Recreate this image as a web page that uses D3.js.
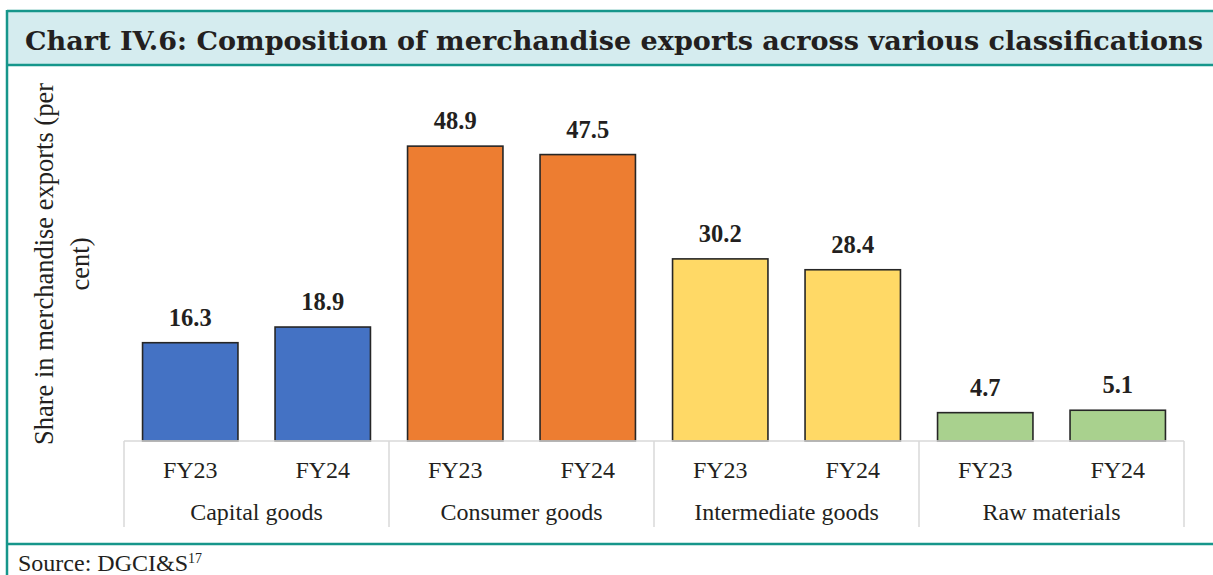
<!DOCTYPE html>
<html>
<head>
<meta charset="utf-8">
<script src="https://cdn.jsdelivr.net/npm/d3@7"></script>
<style>
  html, body { margin: 0; padding: 0; background: #fff; }
  svg { display: block; }
</style>
</head>
<body>
<svg id="chart" width="1213" height="575"></svg>
<script>
// Export composition by broad class, FY23 vs FY24 (share, per cent)
const groups = ["Capital goods", "Consumer goods", "Intermediate goods", "Raw materials"];
const years = ["FY23", "FY24"];
const fy23 = [16.3, 48.9, 30.2, 4.7];
const fy24 = [18.9, 47.5, 28.4, 5.1];
const groupColors = ["#4472c4", "#ed7d31", "#ffd966", "#a9d18e"];

const titleText = "Chart IV.6: Composition of merchandise exports across various classifications";
const yTitle = ["Share in merchandise exports (per", "cent)"];

const svg = d3.select("#chart");
const teal = "#16968b";
const serif = "'Liberation Serif', 'Times New Roman', serif";
const ink = "#231f20";

// Frame and title band
svg.append("rect").attr("x", 7).attr("y", 11).attr("width", 1220).attr("height", 54)
  .attr("fill", "#d5ecef");
svg.append("line").attr("x1", 7).attr("x2", 1213).attr("y1", 11).attr("y2", 11)
  .attr("stroke", teal).attr("stroke-width", 2.5);
svg.append("line").attr("x1", 7).attr("x2", 1213).attr("y1", 65).attr("y2", 65)
  .attr("stroke", teal).attr("stroke-width", 2.5);
svg.append("line").attr("x1", 7).attr("x2", 1213).attr("y1", 544).attr("y2", 544)
  .attr("stroke", teal).attr("stroke-width", 2.5);
svg.append("line").attr("x1", 7).attr("x2", 7).attr("y1", 10).attr("y2", 575)
  .attr("stroke", teal).attr("stroke-width", 2.5);

svg.append("text")
  .attr("x", 25).attr("y", 50)
  .attr("font-family", "'DejaVu Serif', Georgia, serif")
  .attr("font-weight", "bold")
  .attr("font-size", 26)
  .attr("fill", ink)
  .attr("textLength", 1178)
  .attr("lengthAdjust", "spacingAndGlyphs")
  .text(titleText);

// Plot geometry
const left = 124, right = 1184, base = 441, axisBottom = 527;

const x0 = d3.scaleBand().domain(groups).range([left, right]).padding(0);
const x1 = d3.scaleBand().domain(years).range([0, x0.bandwidth()]).paddingInner(0.28).paddingOuter(0.14);
const y = d3.scaleLinear().domain([0, 60]).range([base, base - 60 * 6.03]);

const rows = groups.map((g, i) => ({ group: g, color: groupColors[i], values: [
  { year: "FY23", v: fy23[i] }, { year: "FY24", v: fy24[i] }
]}));

const gGroup = svg.selectAll("g.grp").data(rows).join("g")
  .attr("class", "grp")
  .attr("transform", d => `translate(${x0(d.group)},0)`);

gGroup.selectAll("rect").data(d => d.values.map(v => ({ ...v, color: d.color }))).join("rect")
  .attr("x", d => x1(d.year))
  .attr("y", d => y(d.v))
  .attr("width", x1.bandwidth())
  .attr("height", d => y(0) - y(d.v))
  .attr("fill", d => d.color)
  .attr("stroke", "#262626")
  .attr("stroke-width", 1.6);

gGroup.selectAll("text.val").data(d => d.values).join("text")
  .attr("class", "val")
  .attr("x", d => x1(d.year) + x1.bandwidth() / 2)
  .attr("y", d => y(d.v) - 17)
  .attr("text-anchor", "middle")
  .attr("font-family", serif)
  .attr("font-weight", "bold")
  .attr("font-size", 24.5)
  .attr("fill", ink)
  .text(d => d.v.toFixed(1));

// Category axis: baseline and group dividers
const axisColor = "#d9d9d9";
svg.append("line").attr("x1", left).attr("x2", right).attr("y1", base).attr("y2", base)
  .attr("stroke", axisColor).attr("stroke-width", 1.5);
const dividers = groups.map(g => x0(g)).concat([right]);
svg.selectAll("line.div").data(dividers).join("line")
  .attr("class", "div")
  .attr("x1", d => d).attr("x2", d => d)
  .attr("y1", base).attr("y2", axisBottom)
  .attr("stroke", axisColor).attr("stroke-width", 1.5);

gGroup.selectAll("text.yr").data(years).join("text")
  .attr("class", "yr")
  .attr("x", d => x1(d) + x1.bandwidth() / 2)
  .attr("y", 478)
  .attr("text-anchor", "middle")
  .attr("font-family", serif)
  .attr("font-size", 24)
  .attr("fill", ink)
  .text(d => d);

gGroup.append("text")
  .attr("x", x0.bandwidth() / 2)
  .attr("y", 520)
  .attr("text-anchor", "middle")
  .attr("font-family", serif)
  .attr("font-size", 24)
  .attr("fill", ink)
  .text(d => d.group);

// Y axis title
const yt = svg.append("text")
  .attr("transform", "translate(53,264) rotate(-90)")
  .attr("text-anchor", "middle")
  .attr("font-family", serif)
  .attr("font-size", 26.5)
  .attr("fill", ink);
yt.selectAll("tspan").data(yTitle).join("tspan")
  .attr("x", 0)
  .attr("dy", (d, i) => i === 0 ? 0 : 36)
  .text(d => d);

// Source note
const src = svg.append("text")
  .attr("x", 18).attr("y", 571)
  .attr("font-family", serif)
  .attr("font-size", 24)
  .attr("fill", ink);
src.append("tspan").text("Source: DGCI&S");
src.append("tspan").attr("dy", -8).attr("font-size", 14).text("17");
</script>
</body>
</html>
